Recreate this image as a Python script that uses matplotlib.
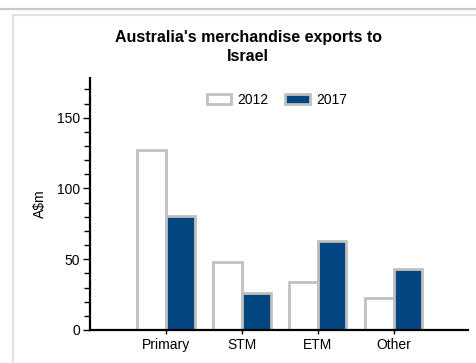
import matplotlib
matplotlib.use("Agg")
import matplotlib.pyplot as plt
import numpy as np
from matplotlib.lines import Line2D
from matplotlib.patches import Patch

plt.rcParams['font.family'] = ['Liberation Sans', 'DejaVu Sans']

categories = ["Primary", "STM", "ETM", "Other"]
exports_2012 = [127, 48, 34, 22.5]
exports_2017 = [80.5, 26, 63, 43]

blue = '#02467f'
edge = '#c0c0c0'

fig = plt.figure(figsize=(4.76, 3.63), dpi=100)
ax = fig.add_axes([0.189, 0.091, 0.794, 0.694])

# page decorations (grey rule and panel border)
fig.add_artist(Line2D([0, 1], [1 - 9 / 363, 1 - 9 / 363], color='#c8c8c8', lw=1.6))
fig.add_artist(Line2D([13 / 476, 1], [1 - 15 / 363, 1 - 15 / 363], color='#e2e2e2', lw=1.6))
fig.add_artist(Line2D([13 / 476, 13 / 476], [0, 1 - 15 / 363], color='#e2e2e2', lw=1.6))

x = np.arange(len(categories))
w = 0.38
ax.bar(x - w / 2, exports_2012, w, color='white', edgecolor=edge, linewidth=2.0, label='2012')
ax.bar(x + w / 2, exports_2017, w, color=blue, edgecolor=edge, linewidth=2.0, label='2017')

ax.set_xlim(-1, 3.98)
ax.set_ylim(0, 178)
ax.set_yticks([0, 50, 100, 150])
ax.set_yticks(np.arange(0, 180, 10), minor=True)
ax.set_xticks(x)
ax.set_xticklabels(categories)
ax.tick_params(axis='y', which='major', length=5, width=1, labelsize=10, pad=2)
ax.tick_params(axis='y', which='minor', length=4, width=1)
ax.tick_params(axis='x', length=3, width=1, labelsize=10, pad=3)

for s in ['top', 'right']:
    ax.spines[s].set_visible(False)
ax.spines['left'].set_linewidth(1.6)
ax.spines['bottom'].set_linewidth(1.6)

ax.set_ylabel('A\\$m', fontsize=10, labelpad=7)
fig.text(248 / 476, 1 - 30 / 363, "Australia's merchandise exports to\nIsrael",
         ha='center', va='top', fontsize=11.5, fontweight='bold', linespacing=1.3)

handles = [Patch(facecolor='white', edgecolor=edge, linewidth=2.0, label='2012'),
           Patch(facecolor=blue, edgecolor=edge, linewidth=2.0, label='2017')]
ax.legend(handles=handles, loc='center', bbox_to_anchor=(277 / 476, 1 - 99.5 / 363),
          bbox_transform=fig.transFigure, ncol=2, frameon=False, fontsize=10,
          handlelength=1.75, handleheight=0.7, columnspacing=1.2, handletextpad=0.45)

fig.savefig('out.png', dpi=100)
